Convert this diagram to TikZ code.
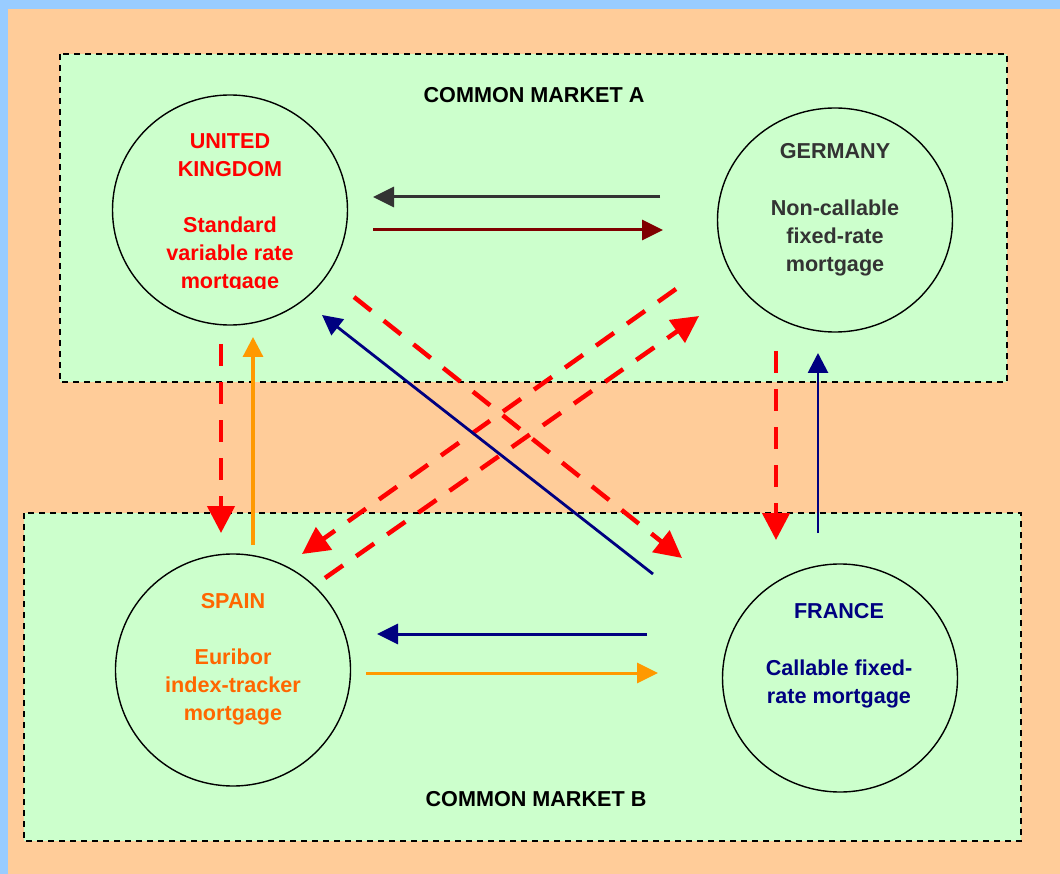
\documentclass[tikz,border=0pt]{standalone}
\usepackage{fontspec}
\setmainfont{Liberation Sans}
\usetikzlibrary{arrows.meta,shapes.geometric}
\definecolor{bgblue}{HTML}{99CCFF}
\definecolor{peach}{HTML}{FFCC99}
\definecolor{mint}{HTML}{CCFFCC}
\definecolor{ukred}{HTML}{FF0000}
\definecolor{degray}{HTML}{333333}
\definecolor{esorange}{HTML}{FF6600}
\definecolor{frnavy}{HTML}{000080}
\definecolor{arrorange}{HTML}{FF9900}
\definecolor{darkred}{HTML}{800000}
\tikzset{
  market/.style={fill=mint,draw=black,line width=1.2pt,dash pattern=on 6pt off 5pt},
  country/.style={ellipse,draw=black,line width=1.4pt,minimum width=235pt,inner sep=0pt},
  ctext/.style={align=center,anchor=base,inner sep=0pt,font=\bfseries\fontsize{21.6}{28}\selectfont},
  ttext/.style={anchor=base,inner sep=0pt,font=\bfseries\fontsize{21.6}{28}\selectfont},
  solidarr/.style={line width=3pt,-{Triangle[length=21pt,width=20pt]}},
  thinarr/.style={line width=2.8pt,-{Triangle[length=20pt,width=20pt]}},
  redarr/.style={draw=ukred,line width=4.5pt,dash pattern=on 22pt off 16pt,-{Triangle[length=27pt,width=27pt]}}
}
\begin{document}
\begin{tikzpicture}[x=1pt,y=-1pt]
\useasboundingbox (0,0) rectangle (1060,874);
\fill[bgblue] (0,0) rectangle (1060,874);
\fill[peach] (8,9.5) rectangle (1060,874);
\draw[market] (60,54) rectangle (1007,382);
\draw[market] (24,513) rectangle (1021,841);
\node[ttext] (titleA) at (534,103) {COMMON MARKET A};
\node[ttext] (titleB) at (536,806) {COMMON MARKET B};
% countries
\node[country,minimum height=230pt] (uk) at (230,210) {};
\node[country,minimum height=224pt] (de) at (835,220) {};
\node[country,minimum height=232pt] (es) at (233,670) {};
\node[country,minimum height=228pt] (fr) at (840,678) {};
\begin{scope}
\clip (100,0) rectangle (360,288.5);
\node[ctext,text=ukred] (uktext) at (230,289) {UNITED\\KINGDOM\\[28pt]Standard\\variable rate\\mortgage};
\end{scope}
\node[ctext,text=degray] (detext) at (835,272) {GERMANY\\[29pt]Non-callable\\fixed-rate\\mortgage};
\node[ctext,text=esorange] (estext) at (233,720) {SPAIN\\[28pt]Euribor\\index-tracker\\mortgage};
\node[ctext,text=frnavy] (frtext) at (839,703) {FRANCE\\[29pt]Callable fixed-\\rate mortgage};
% arrow end points
\coordinate (deUKa) at (660,197); \coordinate (ukDEa) at (373,197);
\coordinate (ukDEb) at (373,230); \coordinate (deUKb) at (663,230);
\coordinate (frESa) at (647,634); \coordinate (esFRa) at (377,634);
\coordinate (esFRb) at (366,673); \coordinate (frESb) at (658,673);
\coordinate (ukS) at (221,344); \coordinate (esN) at (221,533);
\coordinate (esNb) at (253,545); \coordinate (ukSb) at (253,337);
\coordinate (deS) at (776,351); \coordinate (frN) at (776,540);
\coordinate (frNb) at (818,533); \coordinate (deSb) at (818,353);
\coordinate (frNW) at (653,574); \coordinate (ukSE) at (322,315);
\coordinate (ukSEr) at (354,297); \coordinate (frNWr) at (682,558);
\coordinate (deSWr) at (676,289); \coordinate (esNEr) at (302,554);
\coordinate (esNEs) at (325,578); \coordinate (deSWs) at (699,316);
% horizontal
\draw[solidarr,degray] (deUKa) -- (ukDEa);
\draw[solidarr,darkred] (ukDEb) -- (deUKb);
\draw[solidarr,frnavy] (frESa) -- (esFRa);
\draw[solidarr,arrorange] (esFRb) -- (frESb);
% vertical
\draw[redarr] (ukS) -- (esN);
\draw[thinarr,arrorange,line width=3.2pt] (esNb) -- (ukSb);
\draw[redarr] (deS) -- (frN);
\draw[thinarr,frnavy] (frNb) -- (deSb);
% diagonals
\draw[redarr] (ukSEr) -- (frNWr);
\draw[redarr] (deSWr) -- (esNEr);
\draw[redarr] (esNEs) -- (deSWs);
\draw[thinarr,frnavy] (frNW) -- (ukSE);
\end{tikzpicture}
\end{document}
